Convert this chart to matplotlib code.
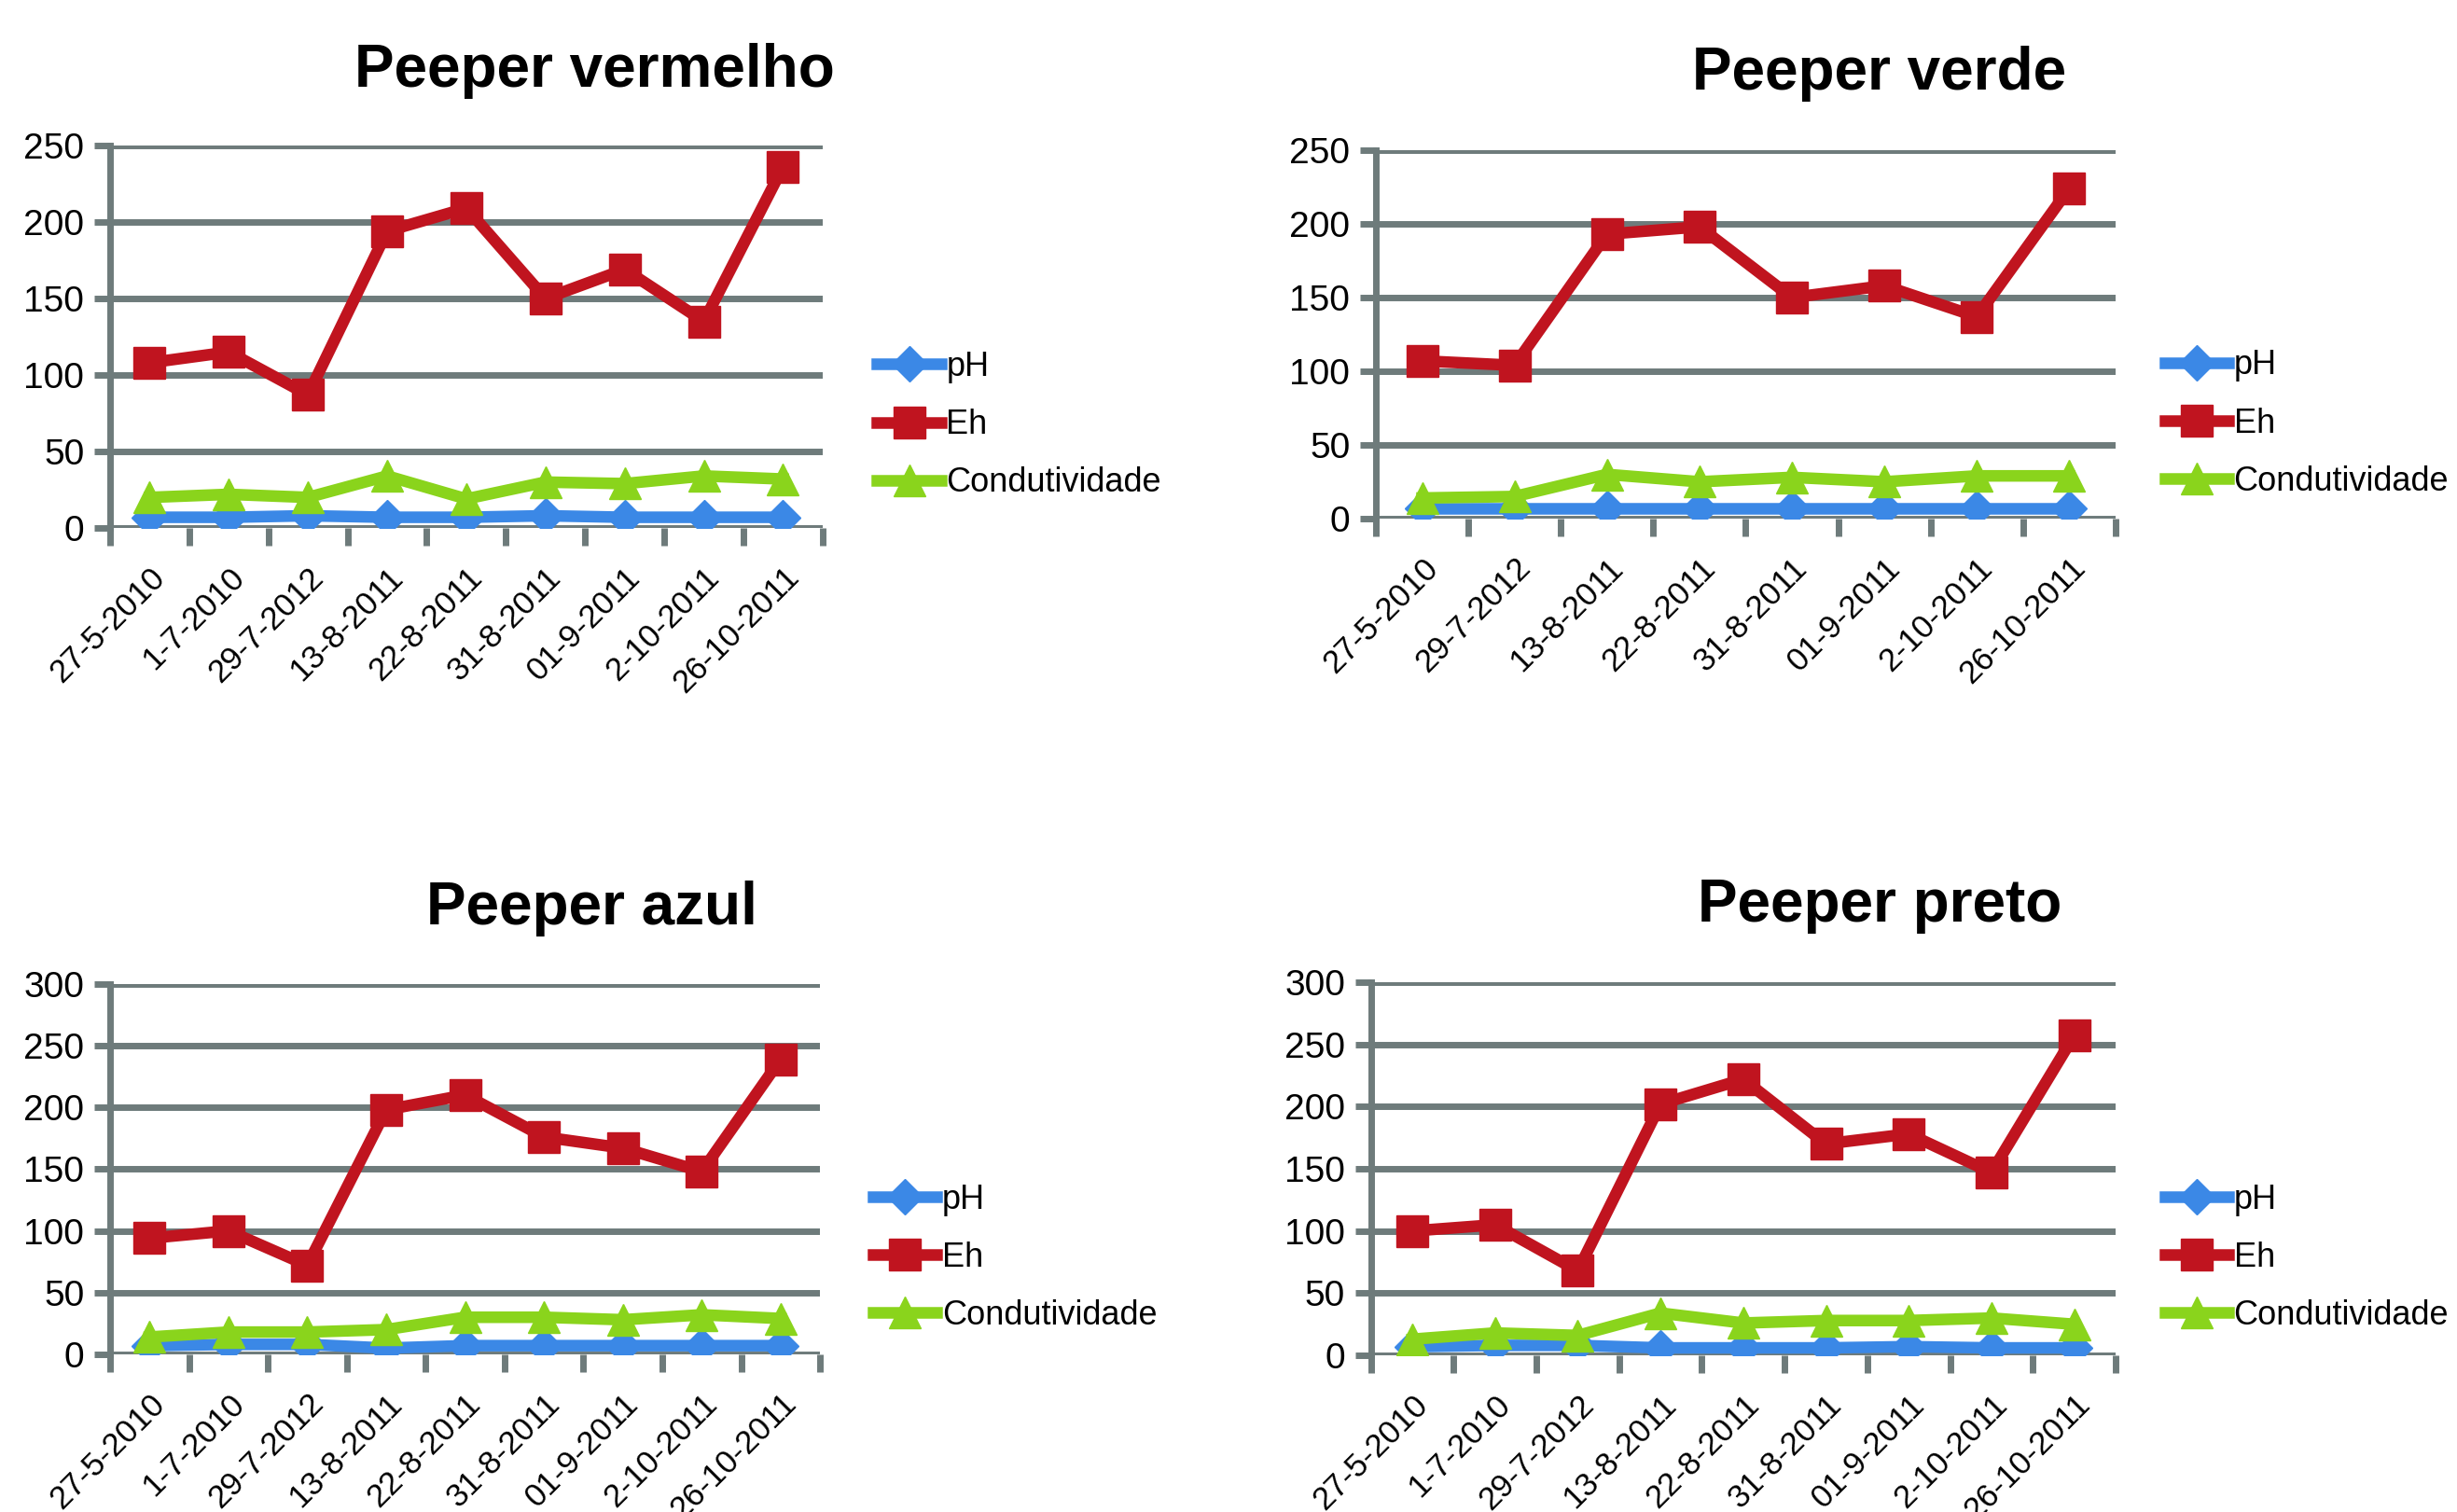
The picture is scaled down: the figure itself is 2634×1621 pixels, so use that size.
import numpy as np
import matplotlib.pyplot as plt

# dates (x categories)
dates_9 = ['27-5-2010', '1-7-2010', '29-7-2012', '13-8-2011', '22-8-2011',
           '31-8-2011', '01-9-2011', '2-10-2011', '26-10-2011']
dates_8 = ['27-5-2010', '29-7-2012', '13-8-2011', '22-8-2011',
           '31-8-2011', '01-9-2011', '2-10-2011', '26-10-2011']

# Peeper vermelho
vermelho_ph = [7, 7, 8, 7, 7, 8, 7, 7, 7]
vermelho_eh = [108, 115, 87, 194, 209, 150, 169, 135, 236]
vermelho_cond = [20, 22, 20, 34, 19, 30, 29, 34, 32]

# Peeper verde
verde_ph = [7, 7, 7, 7, 7, 7, 7, 7]
verde_eh = [107, 104, 193, 198, 150, 158, 137, 224]
verde_cond = [14, 15, 30, 25, 28, 25, 29, 29]

# Peeper azul
azul_ph = [7, 8, 8, 5, 7, 7, 7, 7, 7]
azul_eh = [94, 100, 72, 198, 210, 176, 167, 148, 239]
azul_cond = [14, 18, 18, 20, 30, 30, 28, 32, 29]

# Peeper preto
preto_ph = [7, 8, 8, 6, 6, 6, 7, 6, 6]
preto_eh = [100, 105, 68, 202, 222, 170, 178, 147, 257]
preto_cond = [13, 18, 16, 34, 26, 28, 28, 30, 25]

grid_col = '#6e7b7b'
c_ph = '#3b88e6'
c_eh = '#c0141f'
c_cond = '#8ad41c'
font = 'Liberation Sans'

fig = plt.figure(figsize=(26.34, 16.21), dpi=100)

def panel(rect, title, title_xy, leg_xy, dates, ph, eh, cond, ymax):
    ax = fig.add_axes(rect)
    x = np.arange(len(dates))
    ax.plot(x, ph, color=c_ph, lw=9, marker='D', ms=19, label='pH')
    ax.plot(x, eh, color=c_eh, lw=9, marker='s', ms=24, label='Eh')
    ax.plot(x, cond, color=c_cond, lw=9, marker='^', ms=24, label='Condutividade')
    ax.set_xlim(-0.5, len(dates) - 0.5)
    ax.set_ylim(0, ymax)
    ax.set_yticks(np.arange(0, ymax + 1, 50))
    for v in np.arange(0, ymax + 1, 50):
        ax.axhline(v, color=grid_col, lw=5, zorder=0)
    for s in ['top', 'right', 'bottom']:
        ax.spines[s].set_visible(False)
    ax.spines['left'].set_color(grid_col)
    ax.spines['left'].set_linewidth(5)
    ax.set_xticks(x)
    ax.set_xticklabels(dates, rotation=45, ha='right', va='top',
                       rotation_mode='anchor', family=font, fontsize=25)
    ax.set_xticks(np.arange(-0.5, len(dates)), minor=True)
    ax.tick_params(axis='x', which='major', length=0, pad=26)
    ax.tick_params(axis='x', which='minor', length=14, width=5, color=grid_col)
    ax.tick_params(axis='y', length=12, width=5, color=grid_col, pad=8)
    for lab in ax.get_yticklabels():
        lab.set_family(font)
        lab.set_fontsize(28)
    fig.text(title_xy[0], title_xy[1], title, ha='center', va='center',
             fontsize=46, fontweight='bold', family=font)
    ax.legend(loc='upper left', bbox_to_anchor=leg_xy, bbox_transform=fig.transFigure,
              frameon=False, handlelength=1.9, handletextpad=0.15,
              labelspacing=0.75, borderpad=0, borderaxespad=0,
              prop={'family': font, 'size': 26})
    return ax

panel([0.0448, 0.6508, 0.290, 0.253], 'Peeper vermelho', (0.242, 0.953), (0.357, 0.768),
      dates_9, vermelho_ph, vermelho_eh, vermelho_cond, 250)
panel([0.560, 0.657, 0.301, 0.2437], 'Peeper verde', (0.765, 0.951), (0.881, 0.769),
      dates_8, verde_ph, verde_eh, verde_cond, 250)
panel([0.0448, 0.1043, 0.289, 0.245], 'Peeper azul', (0.241, 0.399), (0.3553, 0.2173),
      dates_9, azul_ph, azul_eh, azul_cond, 300)
panel([0.558, 0.1036, 0.303, 0.2468], 'Peeper preto', (0.765, 0.401), (0.881, 0.2173),
      dates_9, preto_ph, preto_eh, preto_cond, 300)

fig.savefig('out.png', dpi=100)
